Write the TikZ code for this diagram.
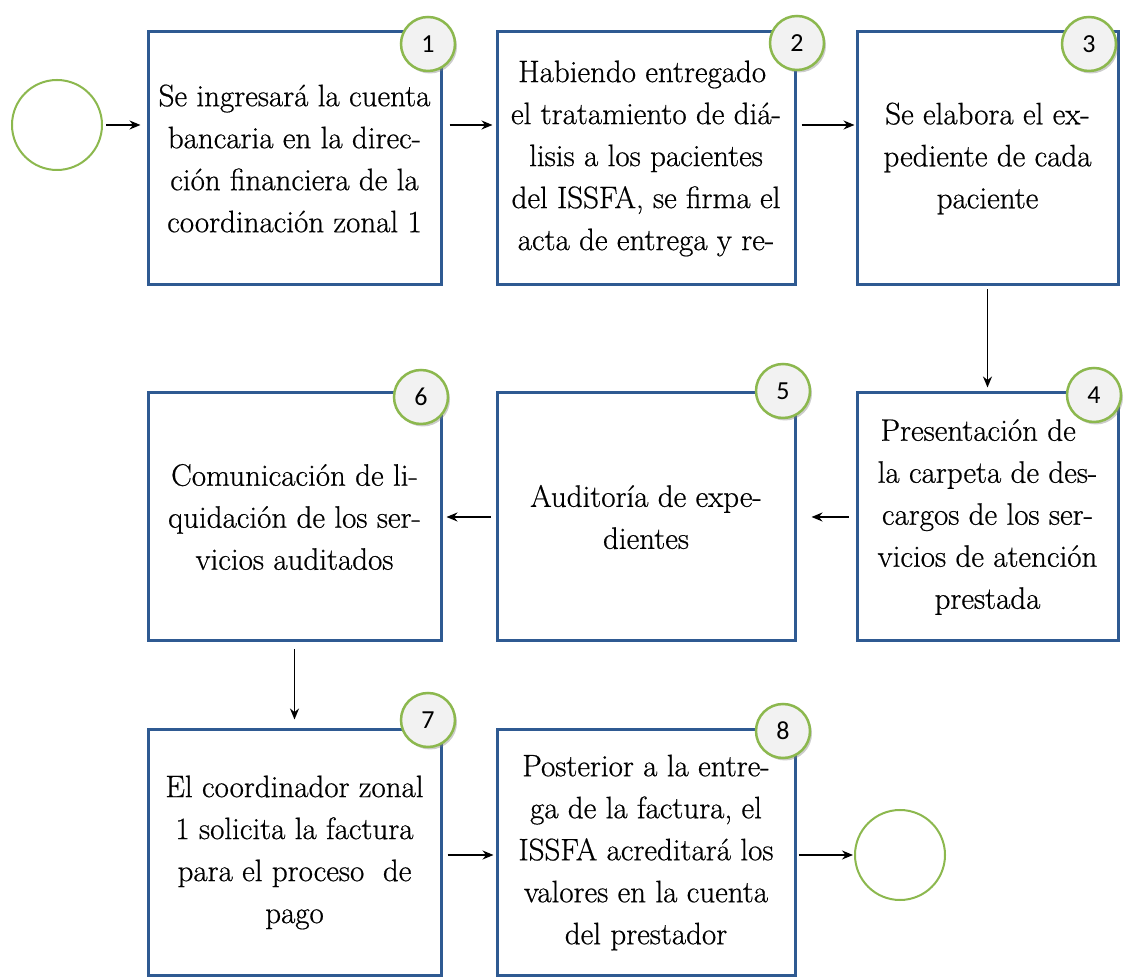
\documentclass[tikz,border=0pt]{standalone}
\usepackage{fontspec}
\newfontfamily\boxfont{Latin Modern Roman}[FakeBold=0.6]
\newfontfamily\numfont{Carlito}
\usetikzlibrary{arrows.meta,shadows}
\definecolor{boxblue}{HTML}{2F5A92}
\definecolor{okgreen}{HTML}{8CB84E}
\definecolor{numfill}{HTML}{F2F2F2}
\begin{document}
\begin{tikzpicture}[x=1pt,y=1pt,
  stepbox/.style={draw=boxblue,line width=3pt,fill=white,rectangle,inner sep=0pt,
    align=center,font=\boxfont\fontsize{31}{42}\selectfont},
  endcircle/.style={draw=okgreen,line width=2pt,circle,minimum size=90pt,inner sep=0pt},
  numcircle/.style={draw=okgreen,line width=2.5pt,fill=numfill,circle,minimum size=54pt,inner sep=0pt,
    font=\numfont\fontsize{26}{26}\selectfont,
    drop shadow={opacity=0.4,shadow xshift=2pt,shadow yshift=-2.5pt}},
  arr/.style={-{Stealth[length=11pt,width=9pt]},line width=1.5pt,black}]
\useasboundingbox (0,0) rectangle (1124,977);
\fill[white] (0,0) rectangle (1124,977);

% start / end circles
\node[endcircle] (s) at (57,852) {};
\node[endcircle] (e) at (900,122) {};

% row 1
\node[stepbox,minimum width=293pt,minimum height=253pt] (b1) at (294.5,818.5)
  {Se ingresará la cuenta\\bancaria en la direc-\\ción financiera de la\\coordinación zonal 1};
\node[stepbox,minimum width=298pt,minimum height=253pt] (b2) at (646,818.5)
  {Habiendo entregado\hspace*{0.25em}\\el tratamiento de diá-\\lisis a los pacientes\\del ISSFA, se firma el\\acta de entrega y re-};
\node[stepbox,minimum width=261pt,minimum height=253pt] (b3) at (987.5,818.5)
  {Se elabora el ex-\\pediente de cada\\paciente};

% row 2
\node[stepbox,minimum width=261pt,minimum height=248pt] (b4) at (987.5,460)
  {Presentación de\hspace*{0.6em}\\la carpeta de des-\\cargos de los ser-\\vicios de atención\\prestada};
\node[stepbox,minimum width=298pt,minimum height=248pt] (b5) at (646,460)
  {Auditoría de expe-\\dientes};
\node[stepbox,minimum width=293pt,minimum height=248pt] (b6) at (294.5,460)
  {Comunicación de li-\\quidación de los ser-\\vicios auditados};

% row 3
\node[stepbox,minimum width=293pt,minimum height=245pt] (b7) at (294.5,124.5)
  {El coordinador zonal\\1 solicita la factura\\para el proceso\ \ de\\pago};
\node[stepbox,minimum width=298pt,minimum height=245pt] (b8) at (646,124.5)
  {Posterior a la entre-\\ga de la factura, el\\ISSFA acreditará los\\valores en la cuenta\\del prestador};

% numbers
\node[numcircle] (n1) at (428,933) {1};
\node[numcircle] (n2) at (797,934) {2};
\node[numcircle] (n3) at (1089,933) {3};
\node[numcircle] (n4) at (1094,582) {4};
\node[numcircle] (n5) at (783,586) {5};
\node[numcircle] (n6) at (421,580) {6};
\node[numcircle] (n7) at (428,257) {7};
\node[numcircle] (n8) at (783,246) {8};

% connectors
\draw[arr,shorten <=3pt,shorten >=6pt] (s.east) -- (b1.west |- s.east);
\draw[arr,shorten <=7pt,shorten >=3pt] (b1.east |- s.east) -- (b2.west |- s.east);
\draw[arr,shorten <=5pt,shorten >=1pt] (b2.east |- s.east) -- (b3.west |- s.east);
\draw[arr,shorten <=3pt,shorten >=4pt] (b3.south) -- (b4.north);
\draw[arr,shorten <=7pt,shorten >=15pt] (b4.west) -- (b5.east);
\draw[arr,shorten <=5pt,shorten >=4pt] (b5.west) -- (b6.east);
\draw[arr,shorten <=7pt,shorten >=9pt] (b6.south) -- (b7.north);
\draw[arr,shorten <=5pt,shorten >=2pt] (b7.east |- e.west) -- (b8.west |- e.west);
\draw[arr,shorten <=2pt,shorten >=1pt] (b8.east |- e.west) -- (e.west);
\end{tikzpicture}
\end{document}
